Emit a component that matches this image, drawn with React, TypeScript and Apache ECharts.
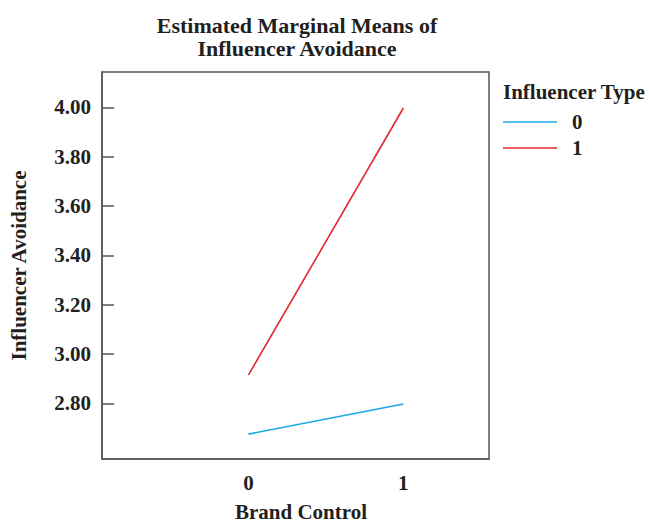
import React, { useEffect, useRef } from "react";
import * as echarts from "echarts";

const brandControl = [0, 1];
const type0Values = [2.675, 2.797];
const type1Values = [2.915, 3.998];
const seriesNames = ["0", "1"];
const seriesColors = ["#1ba8e6", "#e3262e"];
const yTicks = [2.8, 3.0, 3.2, 3.4, 3.6, 3.8, 4.0];
const xTicks = [0, 1];

const FONT = "'Liberation Serif', 'Times New Roman', serif";
const TXT = "#231f20";
const FS = 21;

export default function App() {
  const ref = useRef<HTMLDivElement>(null);
  useEffect(() => {
    if (!ref.current) return;
    const chart = echarts.init(ref.current, undefined, { renderer: "svg" });
    const legendGraphics: any[] = [
      {
        type: "text",
        left: 503,
        top: 81,
        style: { text: "Influencer Type", fontFamily: FONT, fontWeight: "bold", fontSize: FS, fill: TXT },
      },
    ];
    seriesNames.forEach((name, i) => {
      const y = 122 + i * 26;
      legendGraphics.push({
        type: "line",
        shape: { x1: 503, y1: y, x2: 557, y2: y },
        style: { stroke: seriesColors[i], lineWidth: 1.6 },
      });
      legendGraphics.push({
        type: "text",
        x: 572,
        y: y,
        style: {
          text: name,
          fontFamily: FONT,
          fontWeight: "bold",
          fontSize: FS,
          fill: TXT,
          verticalAlign: "middle",
        },
      });
    });
    chart.setOption({
      animation: false,
      backgroundColor: "#ffffff",
      title: {
        text: "Estimated Marginal Means of\nInfluencer Avoidance",
        left: 292,
        top: 9,
        textAlign: "center",
        textStyle: { fontFamily: FONT, fontWeight: "bold", fontSize: 22, lineHeight: 23, color: TXT },
      },
      graphic: legendGraphics,
      grid: {
        left: 102,
        top: 72,
        width: 387,
        height: 387,
        show: true,
        borderColor: "#555",
        borderWidth: 1.5,
        containLabel: false,
      },
      xAxis: {
        type: "value",
        min: -0.946,
        max: 1.553,
        name: "Brand Control",
        nameLocation: "middle",
        nameGap: 42,
        nameTextStyle: { fontFamily: FONT, fontWeight: "bold", fontSize: FS, color: TXT, padding: [0, 0, 0, 11] },
        axisLine: { show: true, onZero: false, lineStyle: { color: "#555", width: 1.5 } },
        axisTick: { show: false },
        splitLine: { show: false },
        axisLabel: {
          customValues: xTicks,
          margin: 13,
          fontFamily: FONT,
          fontWeight: "bold",
          fontSize: FS,
          color: TXT,
          formatter: (v: number) => String(v),
        },
      },
      yAxis: {
        type: "value",
        min: 2.574,
        max: 4.144,
        name: "Influencer Avoidance",
        nameLocation: "middle",
        nameRotate: 90,
        nameGap: 73,
        nameTextStyle: { fontFamily: FONT, fontWeight: "bold", fontSize: FS, color: TXT },
        axisLine: { show: true, onZero: false, lineStyle: { color: "#555", width: 1.5 } },
        axisTick: { show: true, inside: true, length: 12, customValues: yTicks, lineStyle: { color: "#555", width: 1.5 } },
        splitLine: { show: false },
        axisLabel: {
          customValues: yTicks,
          margin: 11,
          fontFamily: FONT,
          fontWeight: "bold",
          fontSize: FS,
          color: TXT,
          formatter: (v: number) => v.toFixed(2),
        },
      },
      series: [
        {
          name: seriesNames[0],
          type: "line",
          data: brandControl.map((x, i) => [x, type0Values[i]]),
          symbol: "none",
          lineStyle: { color: seriesColors[0], width: 1.6 },
          itemStyle: { color: seriesColors[0] },
        },
        {
          name: seriesNames[1],
          type: "line",
          data: brandControl.map((x, i) => [x, type1Values[i]]),
          symbol: "none",
          lineStyle: { color: seriesColors[1], width: 1.6 },
          itemStyle: { color: seriesColors[1] },
        },
      ],
    });
    return () => chart.dispose();
  }, []);
  return <div ref={ref} style={{ position: "fixed", left: 0, top: 0, width: 649, height: 527 }} />;
}
